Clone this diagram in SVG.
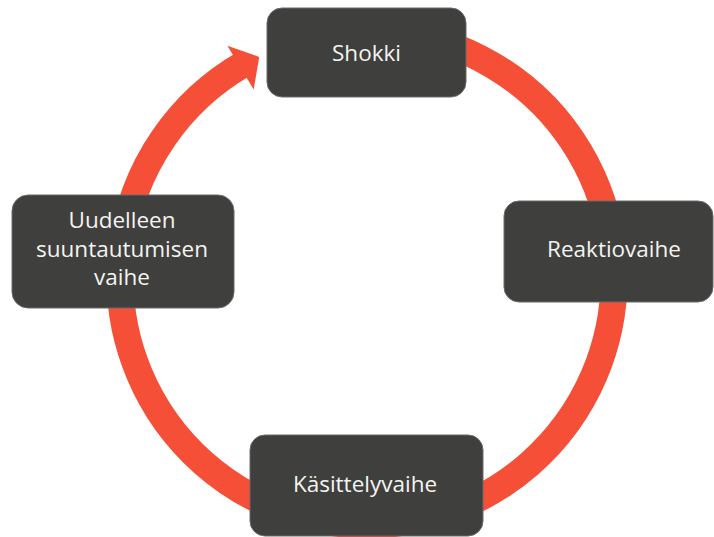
<svg xmlns="http://www.w3.org/2000/svg" width="714" height="537" viewBox="0 0 714 537">
<style>
.box{fill:#3f3f3d;stroke:#6a6a68;stroke-width:1}
.lbl{font-family:"Open Sans","Noto Sans","Liberation Sans",sans-serif;font-size:22.5px;fill:#f4f4f0;text-anchor:middle}
.ring{fill:none;stroke:#f54f38;stroke-width:27}
.head{fill:#f54f38}
</style>
<rect width="714" height="537" fill="#ffffff"/>
<g id="connectors">
<path class="ring" d="M 388.5 31.9 A 247 247 0 1 1 243.5 64.1"/>
<polygon class="head" points="227.4,45.7 259.2,56.9 253.7,89.4"/>
</g>
<g id="shokki">
<rect class="box" x="267" y="8" width="199" height="89" rx="15"/>
<text class="lbl" x="366.5" y="61">Shokki</text>
</g>
<g id="reaktiovaihe">
<rect class="box" x="504" y="201" width="209" height="101" rx="15"/>
<text class="lbl" x="614" y="257">Reaktiovaihe</text>
</g>
<g id="kasittelyvaihe">
<rect class="box" x="250" y="435" width="233" height="101" rx="15"/>
<text class="lbl" x="365" y="492">Käsittelyvaihe</text>
</g>
<g id="uudelleen">
<rect class="box" x="12" y="195" width="222" height="113" rx="16"/>
<text class="lbl" x="122" y="228">Uudelleen</text>
<text class="lbl" x="122" y="257">suuntautumisen</text>
<text class="lbl" x="122" y="285">vaihe</text>
</g>
</svg>
